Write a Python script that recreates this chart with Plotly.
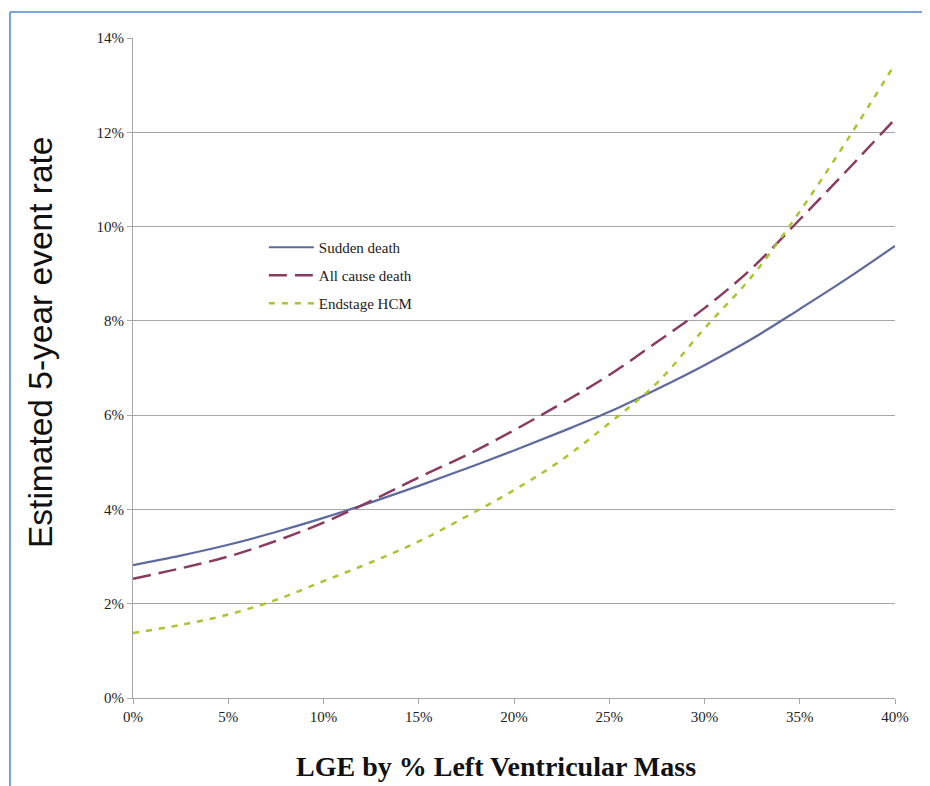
import plotly.graph_objects as go

# LGE by % left ventricular mass (percent)
lge_pct = [0, 2.5, 5, 7.5, 10, 12.5, 15, 17.5, 20, 22.5, 25, 27.5, 30, 32.5, 35, 37.5, 40]

# Estimated 5-year event rate (percent)
sudden_death = [2.82, 3.02, 3.25, 3.52, 3.82, 4.15, 4.50, 4.87, 5.25, 5.65, 6.07, 6.55, 7.06, 7.62, 8.25, 8.90, 9.59]
all_cause_death = [2.53, 2.75, 3.00, 3.33, 3.72, 4.18, 4.68, 5.15, 5.68, 6.25, 6.85, 7.55, 8.27, 9.12, 10.15, 11.20, 12.28]
endstage_hcm = [1.38, 1.55, 1.77, 2.08, 2.48, 2.88, 3.32, 3.85, 4.41, 5.05, 5.83, 6.68, 7.84, 8.95, 10.32, 11.84, 13.45]

series_names = ["Sudden death", "All cause death", "Endstage HCM"]
x_ticks = [0, 5, 10, 15, 20, 25, 30, 35, 40]
y_ticks = [0, 2, 4, 6, 8, 10, 12, 14]

serif = "Liberation Serif, Times New Roman, serif"

# page offset of the figure (body margin) is 8px; plot area in page px: x 133..895, y 38..698
W, H = 922, 778
L, T, R, B = 125, 30, 35, 88
PW, PH = W - L - R, H - T - B

def px_x(page_x):
    return (page_x - 8 - L) / PW

def px_y(page_y):
    return (H - B - (page_y - 8)) / PH

fig = go.Figure()
fig.add_trace(go.Scatter(x=lge_pct, y=sudden_death, mode="lines", name=series_names[0],
                         legendgroup="a", line=dict(color="#5E6A9E", width=2.2, shape="spline")))
fig.add_trace(go.Scatter(x=lge_pct, y=all_cause_death, mode="lines", name=series_names[1],
                         legendgroup="b", line=dict(color="#8B3A62", width=2.5, dash="18px,8px", shape="spline")))
fig.add_trace(go.Scatter(x=lge_pct, y=endstage_hcm, mode="lines", name=series_names[2],
                         legendgroup="c", line=dict(color="#A9C531", width=2.5, dash="6px,7px", shape="spline")))

fig.update_layout(
    width=W, height=H,
    margin=dict(l=L, r=R, t=T, b=B),
    paper_bgcolor="white", plot_bgcolor="white",
    showlegend=True,
    legend=dict(x=px_x(273) - 0.012, y=px_y(231), xanchor="left", yanchor="top",
                font=dict(family=serif, size=15, color="#222"),
                bgcolor="rgba(0,0,0,0)", traceorder="grouped", tracegroupgap=5.5,
                itemwidth=45),
    xaxis=dict(range=[0, 40], tickvals=x_ticks, ticktext=[f"{v}%" for v in x_ticks],
               showgrid=False, zeroline=False, showline=True, linecolor="#A6A6A6", linewidth=1.2,
               ticks="outside", ticklen=5, tickcolor="#A6A6A6",
               tickfont=dict(family=serif, size=15, color="#222")),
    yaxis=dict(range=[0, 14], tickvals=y_ticks, ticktext=[f"{v}%" for v in y_ticks],
               showgrid=True, gridcolor="#A6A6A6", gridwidth=1.2, zeroline=False,
               showline=True, linecolor="#A6A6A6", linewidth=1.2,
               ticks="outside", ticklen=5, tickcolor="#A6A6A6",
               tickfont=dict(family=serif, size=15, color="#222")),
    annotations=[
        dict(text="<b>LGE by % Left Ventricular Mass</b>", xref="paper", yref="paper",
             x=px_x(496), y=px_y(766), xanchor="center", yanchor="middle", showarrow=False,
             font=dict(family=serif, size=28, color="#111")),
        dict(text="Estimated 5-year event rate", xref="paper", yref="paper",
             x=px_x(40), y=px_y(342), xanchor="center", yanchor="middle", showarrow=False,
             textangle=-90, font=dict(family="Liberation Sans, Arial, sans-serif", size=33.5, color="#111")),
    ],
    shapes=[
        dict(type="line", xref="paper", yref="paper", x0=px_x(10), x1=px_x(10),
             y0=px_y(12), y1=px_y(800), line=dict(color="#7BA5D8", width=2)),
        dict(type="line", xref="paper", yref="paper", x0=px_x(10), x1=px_x(940),
             y0=px_y(12), y1=px_y(12), line=dict(color="#7BA5D8", width=2)),
    ],
)

fig.write_html("out.html")
